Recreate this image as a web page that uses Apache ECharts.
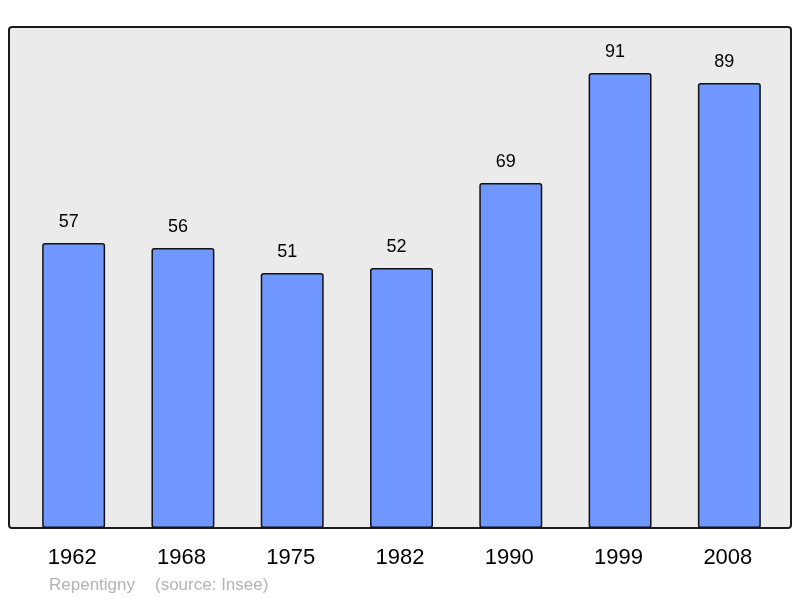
<!DOCTYPE html>
<html><head><meta charset="utf-8">
<script src="https://cdn.jsdelivr.net/npm/echarts@6/dist/echarts.min.js"></script>
<style>html,body{margin:0;padding:0;background:#fff}#c{width:800px;height:598px}</style>
</head><body><div id="c"></div>
<script>
const years = ['1962','1968','1975','1982','1990','1999','2008'];
const population = [57,56,51,52,69,91,89];
const footerPlace = 'Repentigny';
const footerSource = '(source: Insee)';

const chart = echarts.init(document.getElementById('c'), null, {renderer:'canvas'});
chart.setOption({
  animation:false,
  backgroundColor:'#ffffff',
  grid:{left:19,right:16,top:28,bottom:70},
  graphic:[
    {type:'rect', z:-10, shape:{x:9,y:27,width:782,height:501,r:3},
     style:{fill:'#ebebeb',stroke:'#1a1a1a',lineWidth:2}},
    {type:'text', left:49, top:577, style:{text:footerPlace, fill:'#b3b3b3', font:'17px "Liberation Sans", Arial, sans-serif'}},
    {type:'text', left:155, top:577, style:{text:footerSource, fill:'#b3b3b3', font:'17px "Liberation Sans", Arial, sans-serif'}}
  ],
  xAxis:{type:'category', data:years,
    axisLine:{show:false}, axisTick:{show:false},
    axisLabel:{color:'#000', fontSize:22, fontFamily:'"Liberation Sans", Arial, sans-serif', margin:19, padding:[0,3,0,0]}},
  yAxis:{type:'value', min:0, max:100, show:false, splitLine:{show:false}},
  series:[{type:'bar', data:population, barWidth:'57.6%',
    itemStyle:{color:'#7097fd', borderColor:'#111', borderWidth:1.5, borderRadius:2},
    label:{show:true, position:'top', distance:12, offset:[-5,0], color:'#000', fontSize:18, fontFamily:'"Liberation Sans", Arial, sans-serif'}}]
});
</script></body></html>
